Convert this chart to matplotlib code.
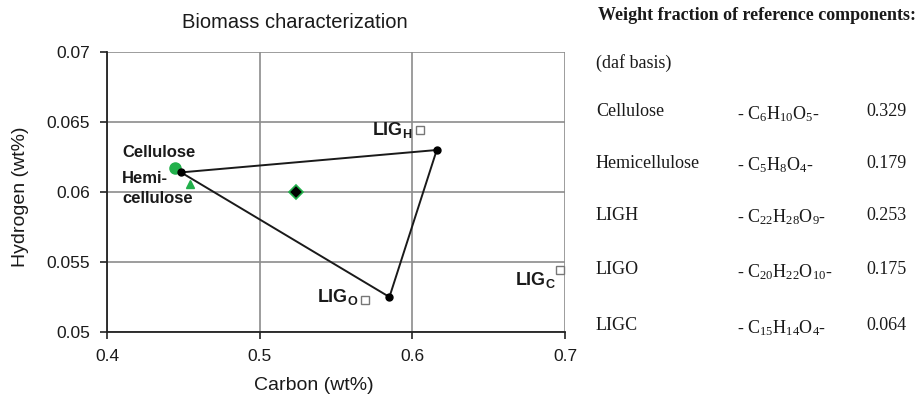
import matplotlib
matplotlib.use("Agg")
from matplotlib import pyplot as plt

plt.rcParams['font.family'] = ['Liberation Sans', 'DejaVu Sans']
plt.rcParams['mathtext.default'] = 'regular'

# reference components (carbon, hydrogen fractions)
ref_names = ['Cellulose', 'Hemicellulose', 'LIGH', 'LIGO', 'LIGC']
ref_carbon = [0.4445, 0.4543, 0.605, 0.569, 0.697]
ref_hydrogen = [0.0617, 0.0606, 0.0644, 0.0523, 0.0544]

# triangle of the fitted mixture corners
tri_carbon = [0.4485, 0.616, 0.585]
tri_hydrogen = [0.0614, 0.0630, 0.0525]

# biomass sample
sample_carbon = [0.524]
sample_hydrogen = [0.0600]

# table on the right
tab_names = ['Cellulose', 'Hemicellulose', 'LIGH', 'LIGO', 'LIGC']
tab_formulas = [r'- C$_6$H$_{10}$O$_5$-', r'- C$_5$H$_8$O$_4$-',
                r'- C$_{22}$H$_{28}$O$_9$-', r'- C$_{20}$H$_{22}$O$_{10}$-',
                r'- C$_{15}$H$_{14}$O$_4$-']
tab_fractions = ['0.329', '0.179', '0.253', '0.175', '0.064']

xticks = [0.4, 0.5, 0.6, 0.7]
yticks = [0.05, 0.055, 0.06, 0.065, 0.07]

green = '#22b04b'
ink = '#1a1a1a'

fig = plt.figure(figsize=(9.2, 4.0), dpi=100)
ax = fig.add_axes([107 / 920, 1 - 332 / 400, 458 / 920, 280 / 400])

# grid
ax.set_xlim(0.4, 0.7)
ax.set_ylim(0.05, 0.07)
ax.set_xticks(xticks)
ax.set_yticks(yticks)
ax.set_xticklabels(['0.4', '0.5', '0.6', '0.7'])
ax.set_yticklabels(['0.05', '0.055', '0.06', '0.065', '0.07'])
ax.grid(True, color='#8c8c8c', linewidth=1.2)
ax.set_axisbelow(True)
for s in ['top', 'right']:
    ax.spines[s].set_visible(False)
for s in ['left', 'bottom']:
    ax.spines[s].set_linewidth(1.3)
    ax.spines[s].set_color('#222222')
ax.tick_params(labelsize=12.5, length=5, width=1.2, color='#222222', pad=7,
               labelcolor=ink)

# triangle
ax.plot(tri_carbon + tri_carbon[:1], tri_hydrogen + tri_hydrogen[:1],
        color=ink, linewidth=1.4, zorder=3)
ax.plot(tri_carbon, tri_hydrogen, 'o', color='black', markersize=5, zorder=4)

# reference markers
ax.plot(ref_carbon[0], ref_hydrogen[0], 'o', color=green, markersize=8, zorder=3)
ax.plot(ref_carbon[1], ref_hydrogen[1], '^', color=green, markersize=6, zorder=3)
ax.plot(ref_carbon[2:], ref_hydrogen[2:], 's', markerfacecolor='white',
        markeredgecolor='#777777', markersize=6, markeredgewidth=1.0,
        linestyle='none', zorder=3, clip_on=False)

# biomass sample
ax.plot(sample_carbon, sample_hydrogen, 'D', markerfacecolor='black',
        markeredgecolor=green, markersize=7, markeredgewidth=1.2, zorder=4)

# labels in the plot
lab = dict(fontweight='bold', color=ink, family=['Liberation Sans'])
ax.text(0.41, 0.0628, 'Cellulose', ha='left', va='center', fontsize=12, **lab)
ax.text(0.41, 0.06025, 'Hemi-\ncellulose', ha='left', va='center',
        linespacing=1.45, fontsize=12, **lab)
ax.text(0.600, 0.0644, 'LIG$_H$', ha='right', va='center', fontsize=13, **lab)
ax.text(0.5645, 0.0525, 'LIG$_O$', ha='right', va='center', fontsize=13, **lab)
ax.text(0.694, 0.0537, 'LIG$_C$', ha='right', va='center', fontsize=13, **lab)

fig.text(295 / 920, 1 - 22 / 400, 'Biomass characterization', ha='center',
         va='center', fontsize=14.5, color=ink)
ax.set_xlabel('Carbon (wt%)', fontsize=14, color=ink, va='center')
ax.xaxis.set_label_coords((314 - 107) / 458, -(385 - 332) / 280)
ax.set_ylabel('Hydrogen (wt%)', fontsize=14, color=ink, va='center')
ax.yaxis.set_label_coords(-(107 - 20) / 458, (332 - 197) / 280)

# right-hand table
serif = dict(family=['Liberation Serif'], fontsize=13, color=ink)
fig.text(598 / 920, 1 - 16 / 400, 'Weight fraction of reference components:',
         ha='left', va='center', fontweight='bold', **serif)
fig.text(596 / 920, 1 - 63 / 400, '(daf basis)', ha='left', va='center', **serif)
row_y = [112, 163, 215, 270, 326]
for name, form, frac, y in zip(tab_names, tab_formulas, tab_fractions, row_y):
    fig.text(596 / 920, 1 - y / 400, name, ha='left', va='center', **serif)
    fig.text(737 / 920, 1 - (y + 2) / 400, form, ha='left', va='center', **serif)
    fig.text(907 / 920, 1 - y / 400, frac, ha='right', va='center', **serif)

fig.savefig('out.png', dpi=100)
